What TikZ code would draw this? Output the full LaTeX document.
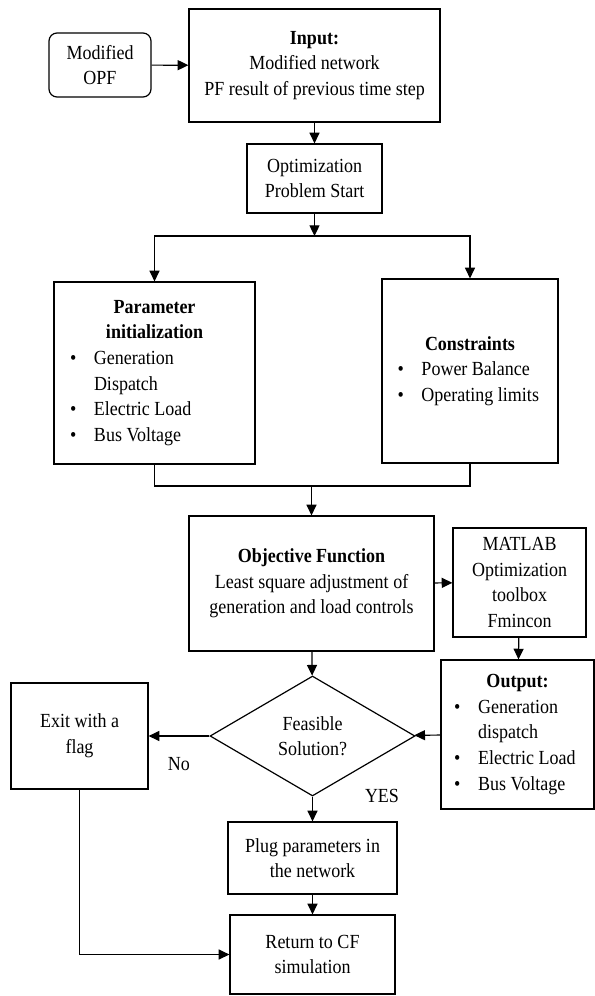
\documentclass[tikz,border=0pt]{standalone}
\usepackage{fontspec}
\setmainfont{Liberation Serif}[FakeStretch=0.9]
\usepackage{tikz}
\usetikzlibrary{shapes.geometric, arrows.meta, positioning, calc}

\newcommand{\bitem}[1]{\makebox[18pt][l]{\textbullet}{\spaceskip=0pt\relax #1}}

\tikzset{
  block/.style={draw, rectangle, align=center, inner sep=2pt},
  listbox/.style={draw, rectangle, align=left, inner sep=0pt},
  decision/.style={draw, diamond, aspect=1.7, inner sep=0pt, align=center},
  >={Triangle[length=8pt, width=7.5pt]}
}

\begin{document}
\begin{tikzpicture}[x=0.75pt, y=-0.75pt, line width=0.9pt, font=\fontsize{15}{19.2}\selectfont]
      \useasboundingbox (0,0) rectangle (595,996);

      \node[block, rounded corners=6pt, minimum width=76.5pt, minimum height=48pt] at (100,65) (opf) {Modified\\OPF};
      \node[block, minimum width=188.25pt, minimum height=84.75pt] at (314.5,65.5) (input) {\textbf{Input:}\\Modified network\\PF result of previous time step};
      \node[block, minimum width=101.25pt, minimum height=51.75pt] at (314.5,178.5) (optstart) {Optimization\\Problem Start};

      \node[listbox, minimum width=150.75pt, minimum height=136.5pt, text width=126.75pt] at (154.5,373) (param) {\makebox[\linewidth]{\textbf{Parameter}}\\ \makebox[\linewidth]{\textbf{initialization}}\\ \bitem{Generation}\\ \hspace*{18pt}Dispatch\\ \bitem{Electric Load}\\ \bitem{Bus Voltage}};
      \node[listbox, minimum width=132pt, minimum height=138pt, text width=108.75pt] at (470,371) (cons) {\makebox[\linewidth]{\textbf{Constraints}}\\ \bitem{Power Balance}\\ \bitem{Operating limits}};

      \node[block, minimum width=183.75pt, minimum height=101.25pt] at (311.5,583.5) (obj) {\textbf{Objective Function}\\Least square adjustment of\\generation and load controls};
      \node[block, minimum width=99.75pt, minimum height=81.75pt] at (519.5,582.5) (matlab) {MATLAB\\Optimization\\toolbox\\Fmincon};
      \node[listbox, minimum width=114.75pt, minimum height=111.75pt, text width=95pt] at (517.5,734.5) (output) {\makebox[\linewidth]{\textbf{Output:}}\\ \bitem{Generation}\\ \hspace*{18pt}dispatch\\ \bitem{Electric Load}\\ \bitem{Bus Voltage}};

      \node[decision, minimum width=153.75pt, minimum height=90pt] at (312.5,736) (feasible) {Feasible\\Solution?};
      \node[block, minimum width=102.75pt, minimum height=79.5pt] at (79.5,736) (exit) {Exit with a\\flag};
      \node[block, minimum width=126.75pt, minimum height=54pt] at (312.5,858) (plug) {Plug parameters in\\the network};
      \node[block, minimum width=123.75pt, minimum height=59.25pt] at (312.5,954.5) (return) {Return to CF\\simulation};
      \node at (382,796) (yes) {YES};

      \coordinate (split) at (314.5,236);
      \coordinate (join) at (311.5,486);

      \draw[->] (opf) -- (input);
      \draw[->] (input) -- (optstart);
      \draw[->] (optstart) -- (split);
      \draw[->] (split) -| (param);
      \draw[->] (split) -| (cons);

      \draw (param) |- (join);
      \draw (cons) |- (join);
      \draw[->] (join) -- (obj);

      \draw[->] (obj) -- (matlab);
      \draw[->] (matlab) -- (output);
      \draw[->] (output) -- (feasible);
      \draw[->] (obj) -- (feasible);
      \draw[->] (feasible) -- (exit) node[midway, below=12pt] {No};
      \draw[->] (feasible) -- (plug);
      \draw[->] (plug) -- (return);
      \draw[->] (exit) |- (return);
\end{tikzpicture}
\end{document}
